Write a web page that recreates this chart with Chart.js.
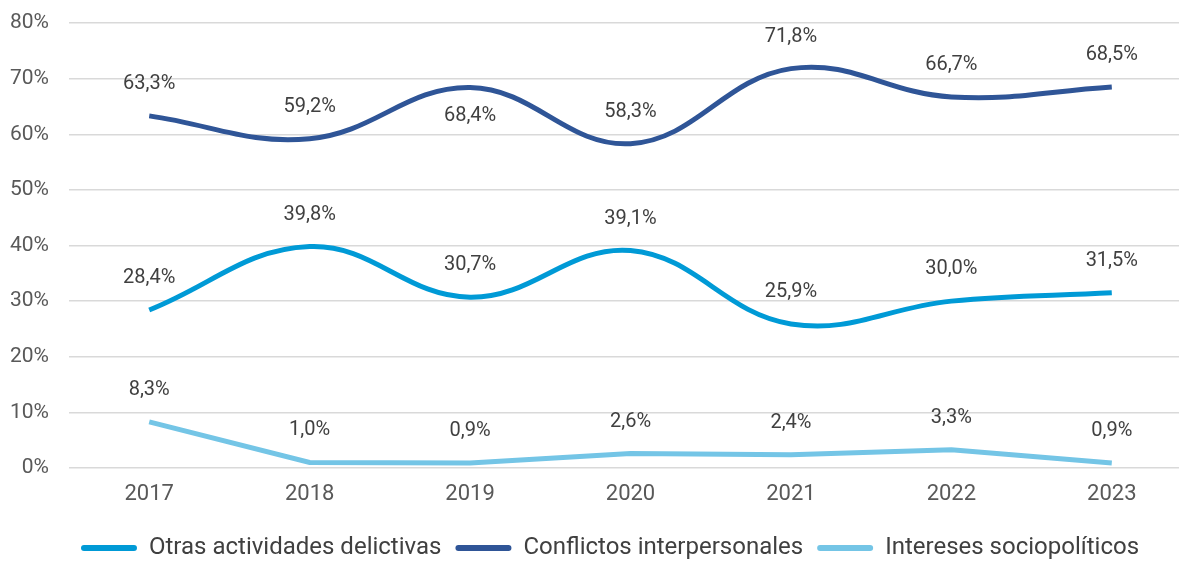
<!DOCTYPE html>
<html>
<head>
<meta charset="utf-8">
<script src="https://cdn.jsdelivr.net/npm/chart.js@4.4.1/dist/chart.umd.min.js"></script>
<style>
  html, body { margin: 0; padding: 0; background: #fff; overflow: hidden; }
  #wrap { width: 1179px; height: 561px; overflow: hidden; }
  #box { width: 1200px; height: 561px; }
</style>
</head>
<body>
<div id="wrap"><div id="box"><canvas id="myChart"></canvas></div></div>
<script>
const ctx = document.getElementById('myChart');

var anos = ['2017', '2018', '2019', '2020', '2021', '2022', '2023'];
var otras = [28.4, 39.8, 30.7, 39.1, 25.9, 30.0, 31.5];
var conflictos = [63.3, 59.2, 68.4, 58.3, 71.8, 66.7, 68.5];
var intereses = [8.3, 1.0, 0.9, 2.6, 2.4, 3.3, 0.9];
var yTicks = [0, 10, 20, 30, 40, 50, 60, 70, 80];

// etiqueta debajo del punto solo donde el original la pone abajo
var abajo = { 1: [2] };

const etiquetas = {
    id: 'etiquetas',
    afterDatasetsDraw(chart) {
        const c = chart.ctx;
        c.save();
        c.font = '20px Roboto';
        c.fillStyle = '#404040';
        c.textAlign = 'center';
        c.textBaseline = 'middle';
        chart.data.datasets.forEach((ds, i) => {
            const meta = chart.getDatasetMeta(i);
            meta.data.forEach((pt, j) => {
                const txt = ds.data[j].toFixed(1).replace('.', ',') + '%';
                const below = abajo[i] && abajo[i].includes(j);
                c.fillText(txt, pt.x, below ? pt.y + 28 : pt.y - 32);
            });
        });
        c.restore();
    }
};

// la leyenda del original esta algo corrida a la derecha
const moverLeyenda = {
    id: 'moverLeyenda',
    afterLayout(chart) {
        chart.legend.left += 14;
        chart.legend.right += 14;
    }
};

new Chart(ctx, {
    type: 'line',
    data: {
        labels: anos,
        datasets: [{
            label: 'Otras actividades delictivas',
            data: otras,
            borderColor: '#009AD6',
            backgroundColor: '#009AD6',
            borderWidth: 5,
            tension: 0.4,
            pointRadius: 0
        }, {
            label: 'Conflictos interpersonales',
            data: conflictos,
            borderColor: '#2F5597',
            backgroundColor: '#2F5597',
            borderWidth: 5,
            tension: 0.4,
            pointRadius: 0
        }, {
            label: 'Intereses sociopolíticos',
            data: intereses,
            borderColor: '#74C5E6',
            backgroundColor: '#74C5E6',
            borderWidth: 5,
            tension: 0,
            pointRadius: 0
        }]
    },
    options: {
        responsive: true,
        maintainAspectRatio: false,
        animation: false,
        layout: { padding: { top: 23, right: 8, left: 0, bottom: -9 } },
        plugins: {
            tooltip: { enabled: false },
            legend: {
                position: 'bottom',
                labels: {
                    font: { family: 'Roboto', size: 24 },
                    color: '#404040',
                    boxWidth: 56,
                    boxHeight: 6,
                    useBorderRadius: true,
                    borderRadius: 3,
                    padding: 14,
                    generateLabels: function (chart) {
                        return Chart.defaults.plugins.legend.labels.generateLabels(chart).map(l => {
                            l.lineWidth = 0;
                            return l;
                        });
                    }
                }
            }
        },
        scales: {
            y: {
                min: 0,
                max: 80,
                afterFit: function (s) { s.width = 69; },
                afterBuildTicks: function (s) { s.ticks = yTicks.map(v => ({ value: v })); },
                border: { display: false },
                grid: { color: '#D9D9D9', lineWidth: 1.5, drawTicks: true, tickLength: 20, tickColor: 'rgba(0,0,0,0)' },
                ticks: {
                    padding: 0,
                    color: '#595959',
                    font: { family: 'Roboto', size: 21 },
                    callback: v => v + '%'
                }
            },
            x: {
                offset: true,
                border: { display: false },
                grid: { display: false },
                afterFit: function (s) { s.height = 54; },
                ticks: {
                    padding: 5,
                    color: '#595959',
                    font: { family: 'Roboto', size: 22 }
                }
            }
        }
    },
    plugins: [etiquetas, moverLeyenda]
});
</script>
</body>
</html>
